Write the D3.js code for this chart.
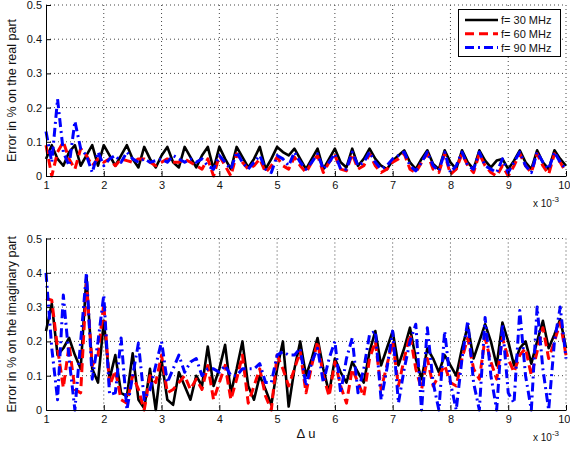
<!DOCTYPE html>
<html><head><meta charset="utf-8">
<script src="https://cdn.jsdelivr.net/npm/d3@7"></script>
<style>
html,body{margin:0;padding:0;background:#fff;}
svg{display:block;font-family:"Liberation Sans",Arial,sans-serif;}
</style></head>
<body>
<svg id="chart" width="570" height="450"></svg>
<script>
// ---- data (x in units of 1e-3, step 0.1 from 1 to 10) ----
const xStart = 1, xStep = 0.1;
const seriesNames = ["f= 30 MHz", "f= 60 MHz", "f= 90 MHz"];
const xTicks = [1,2,3,4,5,6,7,8,9,10];
const xTickLabels = ["1","2","3","4","5","6","7","8","9","10"];
const yTicks = [0,0.1,0.2,0.3,0.4,0.5];
const yTickLabels = ["0","0.1","0.2","0.3","0.4","0.5"];

const real30 = [0.05,0.09,0.05,0.03,0.07,0.09,0.03,0.06,0.09,0.03,
 0.09,0.06,0.03,0.06,0.09,0.05,0.025,0.085,0.05,0.025,
 0.06,0.085,0.04,0.025,0.085,0.055,0.025,0.06,0.085,0.02,
 0.085,0.05,0.02,0.085,0.055,0.025,0.05,0.085,0.02,0.05,
 0.085,0.07,0.06,0.08,0.05,0.02,0.05,0.08,0.02,0.05,
 0.08,0.04,0.025,0.08,0.03,0.05,0.08,0.05,0.03,0.02,
 0.045,0.06,0.075,0.04,0.02,0.05,0.075,0.035,0.02,0.075,
 0.04,0.02,0.075,0.04,0.02,0.075,0.045,0.025,0.045,0.05,
 0.02,0.045,0.075,0.04,0.02,0.075,0.04,0.02,0.075,0.05,
 0.03];
const real60 = [0.09,0.0,0.07,0.1,0.05,0.02,0.08,0.06,0.03,0.05,
 0.04,0.05,0.03,0.05,0.045,0.04,0.05,0.05,0.04,0.03,
 0.04,0.05,0.04,0.04,0.05,0.04,0.03,0.02,0.05,0.0,
 0.06,0.03,0.0,0.065,0.04,0.02,0.03,0.05,0.01,0.03,
 0.055,0.03,0.02,0.055,0.03,0.01,0.04,0.06,0.01,0.04,
 0.06,0.02,0.015,0.065,0.02,0.03,0.065,0.03,0.01,0.02,
 0.04,0.05,0.065,0.02,0.01,0.04,0.065,0.02,0.01,0.065,
 0.005,0.02,0.065,0.03,0.01,0.065,0.03,0.01,0.0,0.03,
 0.0,0.03,0.065,0.03,0.01,0.065,0.03,0.005,0.065,0.04,
 0.01];
const real90 = [0.13,0.04,0.225,0.07,0.03,0.16,0.08,0.06,0.01,0.07,
 0.03,0.05,0.06,0.04,0.07,0.05,0.04,0.05,0.04,0.045,
 0.05,0.04,0.06,0.05,0.04,0.05,0.04,0.05,0.03,0.02,
 0.06,0.04,0.02,0.07,0.04,0.02,0.04,0.06,0.02,0.01,
 0.06,0.05,0.03,0.07,0.04,0.02,0.04,0.065,0.02,0.04,
 0.065,0.02,0.02,0.07,0.03,0.04,0.07,0.04,0.02,0.03,
 0.05,0.06,0.07,0.03,0.015,0.04,0.07,0.03,0.015,0.07,
 0.01,0.03,0.07,0.03,0.02,0.07,0.03,0.02,0.01,0.05,
 0.01,0.04,0.07,0.03,0.01,0.07,0.04,0.02,0.07,0.04,
 0.02];
const imag30 = [0.23,0.31,0.16,0.18,0.21,0.16,0.12,0.39,0.12,0.08,
 0.26,0.09,0.16,0.05,0.04,0.165,0.03,0.005,0.12,0.0,
 0.145,0.03,0.015,0.11,0.07,0.03,0.1,0.07,0.185,0.07,
 0.12,0.19,0.05,0.12,0.2,0.07,0.03,0.1,0.06,0.015,
 0.12,0.2,0.01,0.12,0.2,0.1,0.15,0.21,0.12,0.05,
 0.15,0.11,0.08,0.14,0.11,0.08,0.17,0.23,0.13,0.18,
 0.23,0.13,0.18,0.24,0.15,0.09,0.18,0.15,0.11,0.16,
 0.13,0.1,0.18,0.245,0.15,0.2,0.25,0.2,0.13,0.255,
 0.2,0.13,0.18,0.2,0.135,0.2,0.26,0.18,0.22,0.265,
 0.18];
const imag60 = [0.325,0.32,0.18,0.065,0.19,0.06,0.05,0.37,0.13,0.16,
 0.31,0.07,0.115,0.03,0.02,0.1,0.06,0.0,0.1,0.08,
 0.16,0.05,0.06,0.08,0.1,0.06,0.09,0.06,0.13,0.03,
 0.08,0.13,0.03,0.09,0.16,0.02,0.07,0.12,0.04,0.0,
 0.16,0.12,0.07,0.12,0.17,0.05,0.13,0.2,0.1,0.04,
 0.14,0.07,0.02,0.12,0.08,0.04,0.15,0.2,0.06,0.13,
 0.2,0.07,0.15,0.22,0.12,0.06,0.15,0.07,0.1,0.13,
 0.08,0.07,0.15,0.21,0.12,0.09,0.21,0.14,0.09,0.21,
 0.15,0.11,0.16,0.18,0.1,0.17,0.24,0.15,0.2,0.255,
 0.16];
const imag90 = [0.4,0.18,0.03,0.335,0.15,0.0,0.2,0.4,0.09,0.2,
 0.335,0.045,0.05,0.21,0.0,0.1,0.195,0.03,0.06,0.13,
 0.2,0.08,0.12,0.16,0.11,0.14,0.15,0.1,0.12,0.12,
 0.11,0.13,0.1,0.1,0.12,0.12,0.12,0.135,0.08,0.08,
 0.16,0.17,0.16,0.16,0.18,0.07,0.14,0.18,0.08,0.15,
 0.2,0.05,0.15,0.21,0.05,0.12,0.22,0.23,0.03,0.12,
 0.23,0.02,0.12,0.2,0.25,0.0,0.24,0.08,0.0,0.23,
 0.08,0.0,0.15,0.26,0.08,0.0,0.27,0.1,0.0,0.25,
 0.05,0.02,0.29,0.1,0.0,0.3,0.12,0.0,0.2,0.3,
 0.15];

// ---- drawing ----
const svg = d3.select("#chart");
const styles = [
  {color:"#000000", width:2.6, dash:null},
  {color:"#ff0000", width:3, dash:"9,5"},
  {color:"#0000ff", width:3, dash:"9,4,2,4"}
];
const x = d3.scaleLinear().domain([1,10]).range([46,566]);

function panel(yTop, yBottom, data, ylabel, showXLabel, showLegend) {
  const y = d3.scaleLinear().domain([0,0.5]).range([yBottom, yTop]);
  const g = svg.append("g");
  // grid
  g.append("g").selectAll("line").data(xTicks.filter(d=>d>1)).join("line")
    .attr("x1",d=>x(d)).attr("x2",d=>x(d)).attr("y1",yTop).attr("y2",yBottom)
    .attr("stroke","#444").attr("stroke-width",1).attr("stroke-dasharray","1,3");
  g.append("g").selectAll("line").data(yTicks.filter(d=>d>0)).join("line")
    .attr("x1",x(1)).attr("x2",x(10)).attr("y1",d=>y(d)).attr("y2",d=>y(d))
    .attr("stroke","#444").attr("stroke-width",1).attr("stroke-dasharray","1,3");
  // lines
  const line = d3.line().x((d,i)=>x(xStart + i*xStep)).y(d=>y(d));
  data.forEach((s,k)=>{
    g.append("path").datum(s).attr("d",line).attr("fill","none")
      .attr("stroke",styles[k].color).attr("stroke-width",styles[k].width)
      .attr("stroke-linejoin","round")
      .attr("stroke-dasharray",styles[k].dash);
  });
  // axes
  const xAxis = d3.axisBottom(x).tickValues(xTicks).tickFormat((d,i)=>xTickLabels[i])
    .tickSizeInner(-5).tickSizeOuter(0).tickPadding(5);
  const gx = g.append("g").attr("transform",`translate(0,${yBottom})`).call(xAxis);
  const yAxis = d3.axisLeft(y).tickValues(yTicks).tickFormat((d,i)=>yTickLabels[i])
    .tickSizeInner(-5).tickSizeOuter(0).tickPadding(4);
  const gy = g.append("g").attr("transform",`translate(${x(1)},0)`).call(yAxis);
  [gx,gy].forEach(a=>{
    a.selectAll("text").attr("font-size",11).attr("fill","#111")
      .attr("font-family","'Liberation Sans',Arial,sans-serif");
    a.select(".domain").attr("stroke","#000").attr("stroke-width",1);
    a.selectAll(".tick line").attr("stroke","#000");
  });
  // keep the last x label inside the picture
  gx.selectAll(".tick text").filter(d=>d===10).attr("text-anchor","end").attr("dx",4);
  // y label
  g.append("text").attr("transform",`translate(16,${(yTop+yBottom)/2}) rotate(-90)`)
    .attr("text-anchor","middle").attr("font-size",12.5).attr("fill","#111").text(ylabel);
  // exponent label
  const ex = g.append("text").attr("x",533).attr("y",yBottom+31).attr("font-size",10).attr("fill","#111");
  ex.append("tspan").text("x 10");
  ex.append("tspan").attr("dy",-5).attr("font-size",8).text("-3");
  if (showXLabel) {
    g.append("text").attr("x",306).attr("y",yBottom+28).attr("text-anchor","middle")
      .attr("font-size",13).attr("fill","#111").text("\u0394 u");
  }
  if (showLegend) {
    const lg = g.append("g");
    lg.append("rect").attr("x",458.5).attr("y",9.5).attr("width",102).attr("height",47)
      .attr("fill","#fff").attr("stroke","#000").attr("stroke-width",1);
    seriesNames.forEach((n,k)=>{
      const yy = 20 + k*13.8;
      lg.append("line").attr("x1",465).attr("x2",498).attr("y1",yy).attr("y2",yy)
        .attr("stroke",styles[k].color).attr("stroke-width",styles[k].width)
        .attr("stroke-dasharray",styles[k].dash);
      lg.append("text").attr("x",501).attr("y",yy+4).attr("font-size",11)
        .attr("fill","#111").text(n);
    });
  }
}

panel(5, 176, [real30, real60, real90], "Error in % on the real part", false, true);
panel(238.5, 410, [imag30, imag60, imag90], "Error in % on the imaginary part", true, false);
</script>
</body></html>
